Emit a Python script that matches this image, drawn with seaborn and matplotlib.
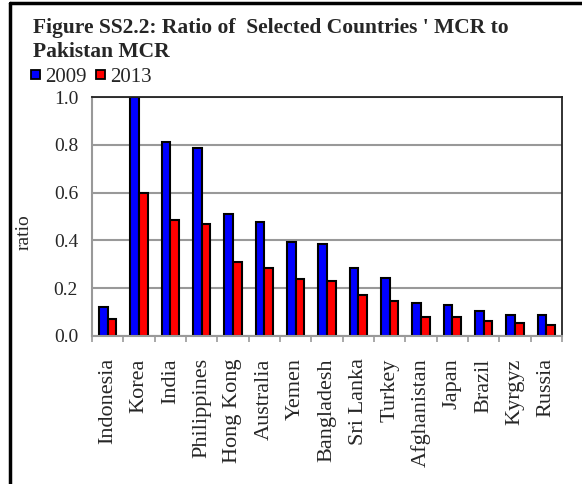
import pandas as pd
import matplotlib.pyplot as plt
import seaborn as sns
from matplotlib.patches import Rectangle
from matplotlib.lines import Line2D

countries = ['Indonesia', 'Korea', 'India', 'Philippines', 'Hong Kong', 'Australia',
             'Yemen', 'Bangladesh', 'Sri Lanka', 'Turkey', 'Afghanistan', 'Japan',
             'Brazil', 'Kyrgyz', 'Russia']
ratio_2009 = [0.12, 1.00, 0.81, 0.785, 0.51, 0.478, 0.393, 0.386, 0.286, 0.244,
              0.138, 0.128, 0.106, 0.088, 0.088]
ratio_2013 = [0.07, 0.60, 0.485, 0.47, 0.31, 0.286, 0.237, 0.229, 0.17, 0.146,
              0.08, 0.08, 0.063, 0.054, 0.045]
years = ['2009', '2013']
colors = ['#0000ff', '#ff0000']

df = pd.DataFrame({
    'country': countries * 2,
    'year': [years[0]] * len(countries) + [years[1]] * len(countries),
    'ratio': ratio_2009 + ratio_2013,
})

sns.set_style('white')
plt.rcParams['font.family'] = ['Liberation Serif', 'DejaVu Serif']

fig = plt.figure(figsize=(5.82, 4.84), dpi=100)
ax = fig.add_axes([92 / 582, 1 - 336 / 484, 470 / 582, 239 / 484])

sns.barplot(data=df, x='country', y='ratio', hue='year', order=countries,
            palette=dict(zip(years, colors)), width=0.56,
            edgecolor='black', linewidth=1.5, saturation=1, legend=False, ax=ax)

ax.set_ylim(0, 1.0)
ax.set_xlim(-0.5, len(countries) - 0.5)
ax.set_yticks([0, 0.2, 0.4, 0.6, 0.8, 1.0])
ax.set_yticklabels(['0.0', '0.2', '0.4', '0.6', '0.8', '1.0'], fontsize=14)
ax.yaxis.grid(True, color='#999999', linewidth=1.5)
ax.set_axisbelow(True)
ax.set_xlabel('')
ax.set_ylabel('ratio', fontsize=14)
ax.yaxis.set_label_coords(-0.126, 0.435)

ax.set_xticks(range(len(countries)))
ax.set_xticklabels(countries, rotation=90, fontsize=16)
ax.tick_params(axis='x', length=0, pad=16)
ax.tick_params(axis='y', length=0, pad=10)
ax.set_xticks([i - 0.5 for i in range(len(countries) + 1)], minor=True)
ax.tick_params(axis='x', which='minor', length=4, color='#999999', width=1.2, bottom=True)

for side in ['left', 'bottom']:
    ax.spines[side].set_color('#999999')
    ax.spines[side].set_linewidth(1.5)
for side in ['top', 'right']:
    ax.spines[side].set_color('#222222')
    ax.spines[side].set_linewidth(1.3)

fig.text(33 / 582, 1 - 33 / 484, "Figure SS2.2: Ratio of  Selected Countries ' MCR to",
         fontsize=15.5, fontweight='bold', va='baseline', ha='left')
fig.text(33 / 582, 1 - 57 / 484, "Pakistan MCR",
         fontsize=15.5, fontweight='bold', va='baseline', ha='left')

# legend row
for x_sq, x_txt, yr, col in zip([31, 96], [45, 110], years, colors):
    fig.patches.append(Rectangle((x_sq / 582, 1 - 79 / 484), 9 / 582, 9 / 484,
                                 transform=fig.transFigure, facecolor=col,
                                 edgecolor='black', linewidth=1.3))
    fig.text(x_txt / 582, 1 - 82 / 484, yr, fontsize=15, va='baseline', ha='left')

# outer frame (left and top edges only visible)
fig.add_artist(Line2D([10 / 582, 10 / 582], [0, 1 - 3 / 484], transform=fig.transFigure,
                      color='black', linewidth=2.5))
fig.add_artist(Line2D([10 / 582, 1], [1 - 3 / 484, 1 - 3 / 484], transform=fig.transFigure,
                      color='black', linewidth=2.5))

plt.savefig('out.png', dpi=100)
plt.close()
